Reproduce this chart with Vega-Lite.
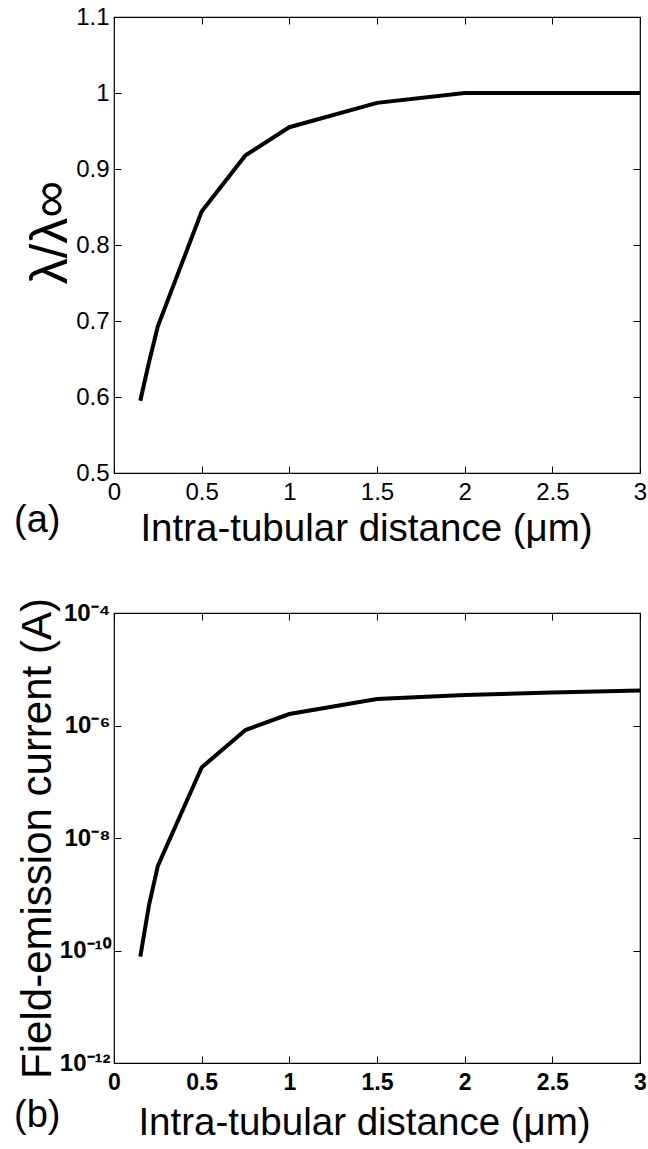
{
  "$schema": "https://vega.github.io/schema/vega-lite/v6.json",
  "padding": {"left": 13, "top": 4, "right": 0, "bottom": 0},
  "background": "white",
  "spacing": 140,
  "bounds": "flush",
  "config": {
    "view": {"stroke": "black", "strokeWidth": 1.2},
    "font": "Liberation Sans",
    "axis": {
      "domain": false,
      "grid": false,
      "ticks": true,
      "tickColor": "black",
      "tickSize": -7,
      "tickWidth": 1,
      "labelColor": "black",
      "titleColor": "black",
      "labelFont": "Liberation Sans",
      "titleFont": "Liberation Sans",
      "titleFontWeight": "normal",
      "labelFlush": false,
      "labelOverlap": false
    }
  },
  "datasets": {
    "a": [
      {"x": 0.15, "lam": 0.595},
      {"x": 0.2, "lam": 0.646},
      {"x": 0.25, "lam": 0.693},
      {"x": 0.5, "lam": 0.844},
      {"x": 0.75, "lam": 0.918},
      {"x": 1.0, "lam": 0.955},
      {"x": 1.5, "lam": 0.987},
      {"x": 2.0, "lam": 1.0},
      {"x": 2.5, "lam": 1.0},
      {"x": 3.0, "lam": 1.0}
    ],
    "b": [
      {"x": 0.15, "cur": 7.8e-11},
      {"x": 0.2, "cur": 6.5e-10},
      {"x": 0.25, "cur": 3.2e-9},
      {"x": 0.5, "cur": 1.8e-7},
      {"x": 0.75, "cur": 8.3e-7},
      {"x": 1.0, "cur": 1.6e-6},
      {"x": 1.5, "cur": 2.95e-6},
      {"x": 2.0, "cur": 3.5e-6},
      {"x": 2.5, "cur": 3.85e-6},
      {"x": 3.0, "cur": 4.2e-6}
    ]
  },
  "vconcat": [
    {
      "width": 526,
      "height": 456,
      "data": {"name": "a"},
      "title": {"text": "(a)", "orient": "bottom", "anchor": "start", "frame": "group", "fontSize": 38, "font": "Liberation Sans", "fontWeight": "normal", "color": "black", "dx": -100, "dy": -50},
      "layer": [
        {
          "mark": {"type": "line", "color": "black", "strokeWidth": 4},
          "encoding": {
            "x": {"field": "x", "type": "quantitative", "scale": {"domain": [0, 3], "nice": false},
              "axis": {"orient": "bottom", "values": [0, 0.5, 1, 1.5, 2, 2.5, 3], "format": "~g", "labelFontSize": 24, "labelPadding": 14,
                "title": "Intra-tubular distance (μm)", "titleFontSize": 38.5, "titleX": 252, "titleY": 67, "titleBaseline": "alphabetic", "titleAlign": "center"}},
            "y": {"field": "lam", "type": "quantitative", "scale": {"domain": [0.5, 1.1], "nice": false, "zero": false},
              "axis": {"orient": "left", "values": [0.5, 0.6, 0.7, 0.8, 0.9, 1, 1.1], "format": "~g", "labelFontSize": 24, "labelPadding": 12,
                "title": "λ/λ∞", "titleFontSize": 52, "titleX": -64, "titleY": 215, "titleBaseline": "middle", "titleAlign": "center", "titleAngle": 270}}
          }
        },
        {
          "mark": {"type": "line", "opacity": 0},
          "encoding": {
            "x": {"field": "x", "type": "quantitative", "axis": {"orient": "top", "values": [0, 0.5, 1, 1.5, 2, 2.5, 3], "labels": false, "title": null}},
            "y": {"field": "lam", "type": "quantitative", "axis": {"orient": "right", "values": [0.5, 0.6, 0.7, 0.8, 0.9, 1, 1.1], "labels": false, "title": null}}
          }
        }
      ],
      "resolve": {"axis": {"x": "independent", "y": "independent"}}
    },
    {
      "width": 526,
      "height": 450,
      "data": {"name": "b"},
      "title": {"text": "(b)", "orient": "bottom", "anchor": "start", "frame": "group", "fontSize": 38, "font": "Liberation Sans", "fontWeight": "normal", "color": "black", "dx": -100, "dy": -49},
      "layer": [
        {
          "mark": {"type": "line", "color": "black", "strokeWidth": 4},
          "encoding": {
            "x": {"field": "x", "type": "quantitative", "scale": {"domain": [0, 3], "nice": false},
              "axis": {"orient": "bottom", "values": [0, 0.5, 1, 1.5, 2, 2.5, 3], "format": "~g", "labelFontSize": 23, "labelFontWeight": "bold", "labelPadding": 15,
                "title": "Intra-tubular distance (μm)", "titleFontSize": 38.5, "titleX": 250, "titleY": 71, "titleBaseline": "alphabetic", "titleAlign": "center"}},
            "y": {"field": "cur", "type": "quantitative", "scale": {"type": "log", "domain": [1e-12, 1e-4], "nice": false},
              "axis": {"orient": "left", "values": [1e-12, 1e-10, 1e-8, 1e-6, 1e-4], "labelFontSize": 24, "labelFontWeight": "bold", "labelPadding": 11,
                "labelExpr": "datum.value < 1e-11 ? '10⁻¹²' : datum.value < 1e-9 ? '10⁻¹⁰' : datum.value < 1e-7 ? '10⁻⁸' : datum.value < 1e-5 ? '10⁻⁶' : '10⁻⁴'",
                "title": "Field-emission current (A)", "titleFontSize": 42, "titleX": -77, "titleY": 225, "titleBaseline": "middle", "titleAlign": "center", "titleAngle": 270}}
          }
        },
        {
          "mark": {"type": "line", "opacity": 0},
          "encoding": {
            "x": {"field": "x", "type": "quantitative", "axis": {"orient": "top", "values": [0, 0.5, 1, 1.5, 2, 2.5, 3], "labels": false, "title": null}},
            "y": {"field": "cur", "type": "quantitative", "scale": {"type": "log"}, "axis": {"orient": "right", "values": [1e-12, 1e-10, 1e-8, 1e-6, 1e-4], "labels": false, "title": null}}
          }
        }
      ],
      "resolve": {"axis": {"x": "independent", "y": "independent"}}
    }
  ]
}
